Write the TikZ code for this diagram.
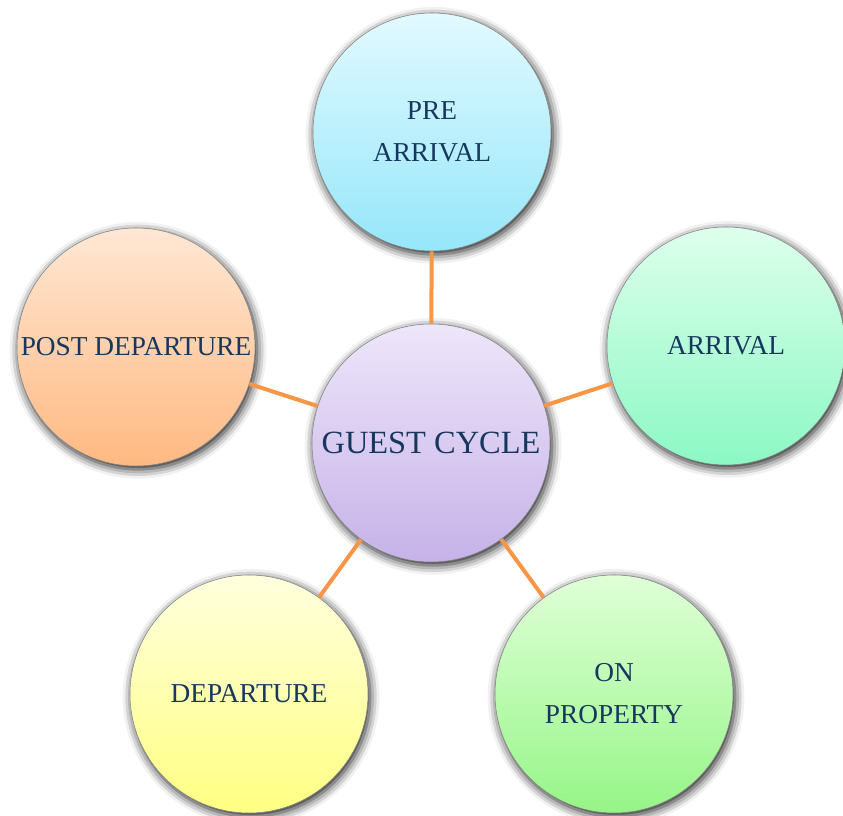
\documentclass[tikz,border=0pt]{standalone}
\usepackage{fontspec}
\setmainfont{Liberation Serif}
\usetikzlibrary{shadows.blur}

\definecolor{labeltext}{RGB}{23,55,94}
\definecolor{linkorange}{RGB}{247,150,70}
\definecolor{rimgray}{RGB}{130,130,130}
\definecolor{preTop}{RGB}{226,250,255}
\definecolor{preBot}{RGB}{150,230,250}
\definecolor{hubTop}{RGB}{238,230,250}
\definecolor{hubBot}{RGB}{198,178,232}
\definecolor{arrTop}{RGB}{222,255,236}
\definecolor{arrBot}{RGB}{140,248,196}
\definecolor{onpTop}{RGB}{224,255,216}
\definecolor{onpBot}{RGB}{150,245,135}
\definecolor{depTop}{RGB}{255,255,222}
\definecolor{depBot}{RGB}{255,255,130}
\definecolor{postTop}{RGB}{255,231,212}
\definecolor{postBot}{RGB}{255,185,130}

\tikzset{
  bubble/.style={circle, minimum size=178.5pt, inner sep=0pt, draw=rimgray, line width=0.4pt,
    text=labeltext, align=center, font=\fontsize{20.5}{31.5}\selectfont,
    blur shadow={shadow xshift=1.5pt, shadow yshift=-2.5pt, shadow blur radius=7pt, shadow opacity=90}},
  link/.style={draw=linkorange, line width=3pt}
}

\begin{document}
\begin{tikzpicture}[x=0.75pt,y=0.75pt,yscale=-1,xscale=1]
\useasboundingbox (0,0) rectangle (843,816);

%Shape: Circle, hub
\node [bubble, top color=hubTop, bottom color=hubBot, font=\fontsize{24.3}{29}\selectfont] (hub) at (431,443) {GUEST CYCLE};
%Shape: Circle, pre arrival
\node [bubble, top color=preTop, bottom color=preBot] (pre) at (432,132) {PRE\\ARRIVAL};
%Shape: Circle, arrival
\node [bubble, top color=arrTop, bottom color=arrBot] (arr) at (726,346) {ARRIVAL};
%Shape: Circle, on property
\node [bubble, top color=onpTop, bottom color=onpBot] (onp) at (614,694) {ON\\PROPERTY};
%Shape: Circle, departure
\node [bubble, top color=depTop, bottom color=depBot] (dep) at (249,694) {DEPARTURE};
%Shape: Circle, post departure
\node [bubble, top color=postTop, bottom color=postBot] (post) at (136,347) {POST DEPARTURE};

%Straight Lines
\draw [link] (hub) -- (pre) ;
\draw [link] (hub) -- (arr) ;
\draw [link] (hub) -- (onp) ;
\draw [link] (hub) -- (dep) ;
\draw [link] (hub) -- (post) ;

\end{tikzpicture}
\end{document}
